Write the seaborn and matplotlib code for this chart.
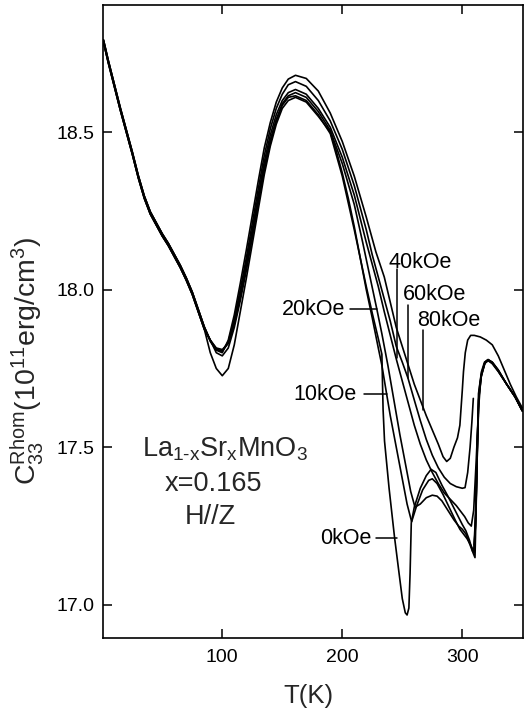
import numpy as np
import pandas as pd
import matplotlib
matplotlib.use("Agg")
import matplotlib.pyplot as plt
import seaborn as sns

# ---------------- data ----------------
# low-temperature part: the curves form a narrow band (upper / lower edge)
T_low = [1, 5, 10, 15, 20, 25, 30, 35, 40, 45, 50, 55, 60, 65, 70, 75, 80, 85]
C_low_a = [18.785, 18.72, 18.645, 18.57, 18.50, 18.43, 18.355, 18.29, 18.24, 18.205,
           18.17, 18.14, 18.105, 18.07, 18.03, 17.985, 17.93, 17.875]
C_low_b = [18.792, 18.727, 18.652, 18.577, 18.507, 18.437, 18.362, 18.297, 18.247, 18.212,
           18.177, 18.147, 18.112, 18.077, 18.037, 17.992, 17.937, 17.882]

T_0 = [90, 95, 100, 105, 110, 115, 120, 125, 130, 135, 140, 145, 150, 155, 161, 170, 180, 190, 195, 200,
       205, 210, 215, 220, 225, 230, 233, 234, 235.2, 239, 243.5, 247, 250, 252.5, 254, 255.5, 256.5, 257.5, 260, 265,
       270, 274, 278, 283, 288, 292, 296, 300, 303, 306, 309, 310.6, 311.5, 312.5, 313.5, 316, 318.5, 321.5, 325, 330,
       337, 344, 350]
C_0 = [17.80, 17.75, 17.727, 17.75, 17.825, 17.93, 18.035, 18.145, 18.255, 18.365, 18.455, 18.525, 18.575, 18.60, 18.61, 18.595, 18.55, 18.50, 18.44, 18.37,
       18.29, 18.20, 18.10, 18.01, 17.925, 17.845, 17.795, 17.62, 17.52, 17.37, 17.216, 17.11, 17.02, 16.975, 16.968, 16.99, 17.10, 17.26, 17.31, 17.37,
       17.41, 17.43, 17.42, 17.38, 17.345, 17.315, 17.285, 17.255, 17.235, 17.205, 17.165, 17.15, 17.30, 17.50, 17.67, 17.74, 17.77, 17.778, 17.77, 17.745,
       17.70, 17.66, 17.615]

T_10 = [90, 95, 100, 105, 110, 115, 120, 125, 130, 135, 140, 145, 150, 155, 161, 170, 180, 190, 200, 210,
        215, 220, 225, 230, 233, 237, 240, 245, 250, 254, 257.8, 262, 267, 272, 275, 279, 284, 289, 294, 298,
        301, 304, 307, 309.5, 311, 312.3, 313.5, 315.5, 318.5, 321.5, 325, 330, 337, 344, 350]
C_10 = [17.84, 17.80, 17.79, 17.815, 17.88, 17.965, 18.06, 18.165, 18.275, 18.38, 18.465, 18.535, 18.585, 18.61, 18.615, 18.60, 18.555, 18.495, 18.36, 18.19,
        18.10, 18.00, 17.91, 17.815, 17.76, 17.668, 17.60, 17.50, 17.40, 17.32, 17.264, 17.315, 17.365, 17.395, 17.40, 17.385, 17.35, 17.31, 17.27, 17.24,
        17.225, 17.21, 17.19, 17.17, 17.25, 17.45, 17.62, 17.72, 17.765, 17.775, 17.768, 17.742, 17.70, 17.66, 17.617]

T_20 = [90, 95, 100, 105, 110, 115, 120, 125, 130, 135, 140, 145, 150, 155, 161, 170, 180, 190, 200, 210,
        217, 222, 228.7, 233, 238, 243, 248, 253, 257, 260.6, 265, 270, 275, 279, 283, 288, 293, 297, 300, 303,
        306, 308.5, 310, 311.5, 312.8, 314, 316, 319, 321.5, 325, 330, 337, 344, 350]
C_20 = [17.84, 17.815, 17.81, 17.83, 17.89, 17.975, 18.07, 18.175, 18.285, 18.39, 18.475, 18.54, 18.59, 18.615, 18.625, 18.61, 18.565, 18.505, 18.40, 18.27,
        18.15, 18.06, 17.94, 17.86, 17.76, 17.65, 17.54, 17.44, 17.36, 17.31, 17.32, 17.34, 17.348, 17.345, 17.33, 17.30, 17.27, 17.25, 17.24, 17.225,
        17.195, 17.17, 17.165, 17.33, 17.55, 17.68, 17.735, 17.77, 17.778, 17.77, 17.745, 17.70, 17.66, 17.615]

T_40a = [90, 95, 100, 105, 110, 115, 120, 125, 130, 135, 140, 145, 150, 155, 161, 170, 180, 190, 200, 210,
         220, 225, 230, 235, 240, 245, 250, 255, 260, 265, 270, 275, 280, 285, 290, 295, 299, 302, 305, 307.5,
         309.5, 311.5, 313.3]
C_40a = [17.84, 17.812, 17.805, 17.83, 17.895, 17.985, 18.085, 18.19, 18.30, 18.405, 18.49, 18.555, 18.60, 18.625, 18.635, 18.62, 18.575, 18.515, 18.42, 18.30,
         18.15, 18.08, 18.01, 17.93, 17.855, 17.78, 17.71, 17.64, 17.57, 17.51, 17.46, 17.42, 17.385, 17.355, 17.335, 17.315, 17.295, 17.28, 17.26, 17.25,
         17.30, 17.45, 17.60]
T_40b = [310.2, 311.4, 312.6, 313.8, 316, 319, 321.5, 325, 330, 337, 344, 350]
C_40b = [17.18, 17.30, 17.50, 17.66, 17.73, 17.77, 17.778, 17.768, 17.742, 17.70, 17.66, 17.617]

T_60a = [90, 95, 100, 105, 110, 115, 120, 125, 130, 135, 140, 145, 150, 155, 161, 170, 180, 190, 200, 210,
         220, 225, 230, 235, 240, 245, 250, 254.7, 260, 265, 270, 275, 280, 285, 290, 295, 300, 302.3, 304.5, 306.5,
         308, 309.2]
C_60a = [17.838, 17.81, 17.805, 17.835, 17.905, 18.00, 18.10, 18.21, 18.32, 18.425, 18.51, 18.575, 18.62, 18.65, 18.66, 18.645, 18.60, 18.535, 18.445, 18.33,
         18.19, 18.11, 18.04, 17.97, 17.90, 17.82, 17.77, 17.72, 17.65, 17.585, 17.525, 17.475, 17.435, 17.405, 17.385, 17.375, 17.37, 17.372, 17.42, 17.50,
         17.58, 17.655]
T_60b = [309.8, 311, 312.3, 313.6, 315.8, 319, 321.5, 325, 330, 337, 344, 350]
C_60b = [17.19, 17.28, 17.48, 17.65, 17.725, 17.768, 17.775, 17.765, 17.74, 17.70, 17.66, 17.617]

T_80 = [90, 95, 100, 105, 110, 115, 120, 125, 130, 135, 140, 145, 150, 155, 161, 170, 180, 190, 200, 210,
        220, 228, 235, 240, 245, 250, 255, 260, 265, 270, 275, 280, 284, 287, 290, 293, 296, 298, 300, 301,
        302.5, 304.5, 307, 310, 315, 320, 325, 330, 335, 340, 345, 350]
C_80 = [17.836, 17.808, 17.80, 17.84, 17.92, 18.02, 18.125, 18.235, 18.345, 18.45, 18.53, 18.595, 18.64, 18.668, 18.68, 18.67, 18.63, 18.56, 18.47, 18.36,
        18.23, 18.12, 18.04, 17.96, 17.88, 17.82, 17.76, 17.70, 17.65, 17.60, 17.555, 17.51, 17.47, 17.455, 17.465, 17.50, 17.53, 17.57, 17.68, 17.74,
        17.80, 17.84, 17.855, 17.855, 17.85, 17.84, 17.825, 17.79, 17.745, 17.70, 17.66, 17.625]

field_labels = ["0kOe", "10kOe", "20kOe", "40kOe", "60kOe", "80kOe"]
x_ticks = [100, 200, 300]
y_ticks = [17.0, 17.5, 18.0, 18.5]

# ---------------- build long-form table ----------------
segments = [
    ("0kOe", T_low + T_0, C_low_a + C_0),
    ("10kOe", T_low + T_10, C_low_a + C_10),
    ("20kOe", T_low + T_20, C_low_a + C_20),
    ("40kOe", T_low + T_40a, C_low_b + C_40a),
    ("40kOe", T_40b, C_40b),
    ("60kOe", T_low + T_60a, C_low_b + C_60a),
    ("60kOe", T_60b, C_60b),
    ("80kOe", T_low + T_80, C_low_b + C_80),
]
frames = []
for i, (lab, t, c) in enumerate(segments):
    frames.append(pd.DataFrame({"T": t, "C": c, "field": lab, "seg": i}))
df = pd.concat(frames, ignore_index=True)

# ---------------- style ----------------
sns.set_theme(style="ticks")
plt.rcParams["font.family"] = ["Liberation Sans", "DejaVu Sans"]
plt.rcParams["mathtext.fontset"] = "custom"
plt.rcParams["mathtext.rm"] = "Liberation Sans"
plt.rcParams["mathtext.it"] = "Liberation Sans"
plt.rcParams["mathtext.bf"] = "Liberation Sans:bold"

fig = plt.figure(figsize=(5.32, 7.10), dpi=100)
ax = fig.add_axes([103 / 532, 1 - 638 / 710, 420 / 532, 633 / 710])

sns.lineplot(data=df, x="T", y="C", hue="field", units="seg", estimator=None, sort=False,
             palette={f: "black" for f in field_labels}, hue_order=field_labels,
             linewidth=1.2, legend=False, ax=ax)

ax.set_xlim(0.6, 350.6)
ax.set_ylim(16.895, 18.903)
ax.set_xticks(x_ticks)
ax.set_yticks(y_ticks)
ax.yaxis.set_major_formatter(matplotlib.ticker.FormatStrFormatter("%.1f"))
ax.tick_params(direction="in", top=True, right=True, length=6.5, width=1.1,
               labelsize=14, colors="black")
ax.tick_params(axis="x", pad=8)
ax.tick_params(axis="y", pad=6)
for s in ax.spines.values():
    s.set_linewidth(1.2)
    s.set_color("black")

ax.set_xlabel("T(K)", fontsize=18.5)
ax.xaxis.set_label_coords(0.488, -0.072)
ax.set_ylabel(r"C$_{33}^{\rm Rhom}$(10$^{11}$erg/cm$^{3}$)", fontsize=20.5)
ax.yaxis.set_label_coords(-0.135, 0.438)

# field labels with leader lines
lbl = [
    ("40kOe", 238.9, 18.087, "left", (245.6, 245.6), (18.065, 17.783)),
    ("60kOe", 250.6, 17.984, "left", (254.75, 254.75), (17.951, 17.719)),
    ("80kOe", 262.3, 17.902, "left", (267.0, 267.0), (17.871, 17.617)),
    ("20kOe", 202.3, 17.938, "right", (206.4, 228.6), (17.938, 17.938)),
    ("10kOe", 212.3, 17.668, "right", (217.7, 237.2), (17.668, 17.668)),
    ("0kOe", 224.3, 17.211, "right", (228.5, 245.2), (17.211, 17.211)),
]
for txt, tx, ty, ha, lx, ly in lbl:
    ax.text(tx, ty, txt, ha=ha, va="center", fontsize=15.5, color="black")
    ax.plot(lx, ly, color="black", linewidth=1.1)

ax.text(0.290, 0.298, r"La$_{\rm 1\text{-}x}$Sr$_{\rm x}$MnO$_{3}$", transform=ax.transAxes,
        ha="center", va="center", fontsize=19.5)
ax.text(0.262, 0.243, "x=0.165", transform=ax.transAxes, ha="center", va="center", fontsize=19.5)
ax.text(0.255, 0.191, "H//Z", transform=ax.transAxes, ha="center", va="center", fontsize=19.5)

fig.savefig("out.png", dpi=100, facecolor="white")
